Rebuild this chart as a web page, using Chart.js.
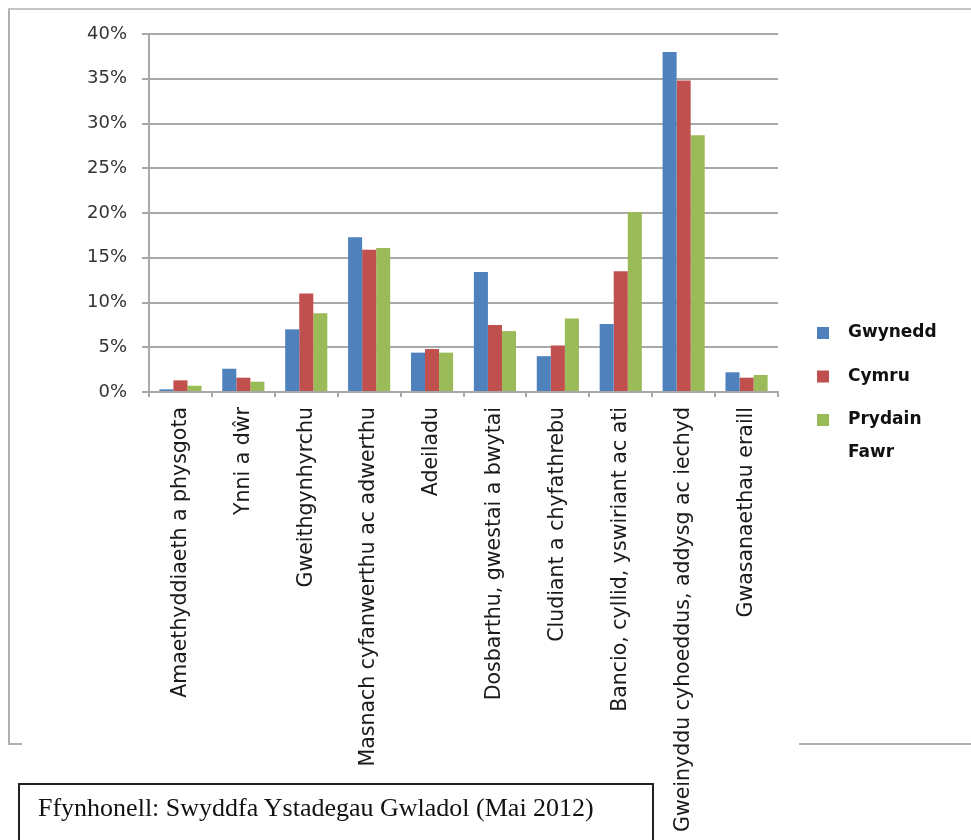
<!DOCTYPE html>
<html>
<head>
<meta charset="utf-8">
<script src="https://cdn.jsdelivr.net/npm/chart.js@4.4.1/dist/chart.umd.min.js"></script>
<style>
  html, body { margin: 0; padding: 0; background: #fff; }
  #wrap { position: relative; width: 971px; height: 840px; overflow: hidden; }
  #chart { position: absolute; left: 0; top: 0; }
  .frame { position: absolute; background: #b0b0b0; }
  #sourceBox { position: absolute; left: 18px; top: 783px; width: 636px; height: 80px;
               border: 2px solid #222; box-sizing: border-box; }
  #sourceText { position: absolute; left: 38px; top: 793px; line-height: 30px; white-space: nowrap;
                font: 26px "Liberation Serif", serif; color: #111; }
</style>
</head>
<body>
<div id="wrap">
  <div class="frame" style="left:8px; top:8px; width:2px; height:737px;"></div>
  <div class="frame" style="left:8px; top:8px; width:963px; height:2px; background:#c4c4c4;"></div>
  <div class="frame" style="left:8px; top:743px; width:14px; height:2px;"></div>
  <div class="frame" style="left:799px; top:743px; width:172px; height:2px;"></div>
  <canvas id="chart" width="971" height="840"></canvas>
  <div id="sourceBox"></div>
  <div id="sourceText">Ffynhonell: Swyddfa Ystadegau Gwladol (Mai 2012)</div>
</div>
<script>
// Sectors (x axis)
const categories = [
    'Amaethyddiaeth a physgota',
    'Ynni a dŵr',
    'Gweithgynhyrchu',
    'Masnach cyfanwerthu ac adwerthu',
    'Adeiladu',
    'Dosbarthu, gwestai a bwytai',
    'Cludiant a chyfathrebu',
    'Bancio, cyllid, yswiriant ac ati',
    'Gweinyddu cyhoeddus, addysg ac iechyd',
    'Gwasanaethau eraill'
];

// Share of employment (%)
const gwynedd = [0.3, 2.6, 7.0, 17.3, 4.4, 13.4, 4.0, 7.6, 38.0, 2.2];
const cymru   = [1.3, 1.6, 11.0, 15.9, 4.8, 7.5, 5.2, 13.5, 34.8, 1.6];
const prydain = [0.7, 1.15, 8.8, 16.1, 4.4, 6.8, 8.2, 20.1, 28.7, 1.9];

const seriesNames = ['Gwynedd', 'Cymru', 'Prydain Fawr'];
const seriesColors = ['#4f81bd', '#c0504d', '#9bbb59'];

const yMin = 0;
const yMax = 40;
const yStep = 5;

const gridColor = '#a8a8a8';

function wrapText(ctx, text, maxWidth) {
    const words = text.split(' ');
    const lines = [];
    let line = '';
    words.forEach(w => {
        const test = line ? line + ' ' + w : w;
        if (line && ctx.measureText(test).width > maxWidth) {
            lines.push(line);
            line = w;
        } else {
            line = test;
        }
    });
    if (line) lines.push(line);
    return lines;
}

// Legend on the right, Excel style with wrapped labels
const sideLegend = {
    id: 'sideLegend',
    afterDraw(chart) {
        const ctx = chart.ctx;
        ctx.save();
        ctx.font = 'bold 17px "DejaVu Sans"';
        ctx.textBaseline = 'alphabetic';
        ctx.textAlign = 'left';
        let baseY = 337;
        chart.data.datasets.forEach(ds => {
            ctx.fillStyle = ds.backgroundColor;
            ctx.fillRect(817, baseY - 10, 12, 12);
            ctx.fillStyle = '#111';
            wrapText(ctx, ds.label, 100).forEach((ln, i) => {
                ctx.fillText(ln, 848, baseY + i * 33);
            });
            baseY += 43.5;
        });
        ctx.restore();
    }
};

const datasets = [gwynedd, cymru, prydain].map((vals, i) => ({
    label: seriesNames[i],
    data: vals,
    backgroundColor: seriesColors[i],
    borderWidth: 0,
    barPercentage: 1.0,
    categoryPercentage: 0.67
}));

new Chart(document.getElementById('chart').getContext('2d'), {
    type: 'bar',
    data: { labels: categories, datasets: datasets },
    options: {
        responsive: false,
        animation: false,
        layout: { padding: { left: 0, right: 193, top: 34, bottom: 0 } },
        plugins: {
            legend: { display: false },
            tooltip: { enabled: false }
        },
        scales: {
            x: {
                afterFit: s => { s.height = 448; },
                grid: {
                    offset: true,
                    drawOnChartArea: false,
                    tickLength: 5,
                    color: gridColor,
                    lineWidth: 2
                },
                border: { color: gridColor, width: 2 },
                ticks: {
                    autoSkip: false,
                    minRotation: 90,
                    maxRotation: 90,
                    padding: 10,
                    color: '#1a1a1a',
                    font: { family: '"DejaVu Sans"', size: 20.5 }
                }
            },
            y: {
                min: yMin,
                max: yMax,
                afterFit: s => { s.width = 149; },
                grid: {
                    color: gridColor,
                    lineWidth: 2,
                    tickLength: 7
                },
                border: { color: gridColor, width: 2 },
                ticks: {
                    stepSize: yStep,
                    padding: 15,
                    color: '#333',
                    font: { family: '"DejaVu Sans"', size: 18 },
                    callback: v => v + '%'
                }
            }
        }
    },
    plugins: [sideLegend]
});
</script>
</body>
</html>
